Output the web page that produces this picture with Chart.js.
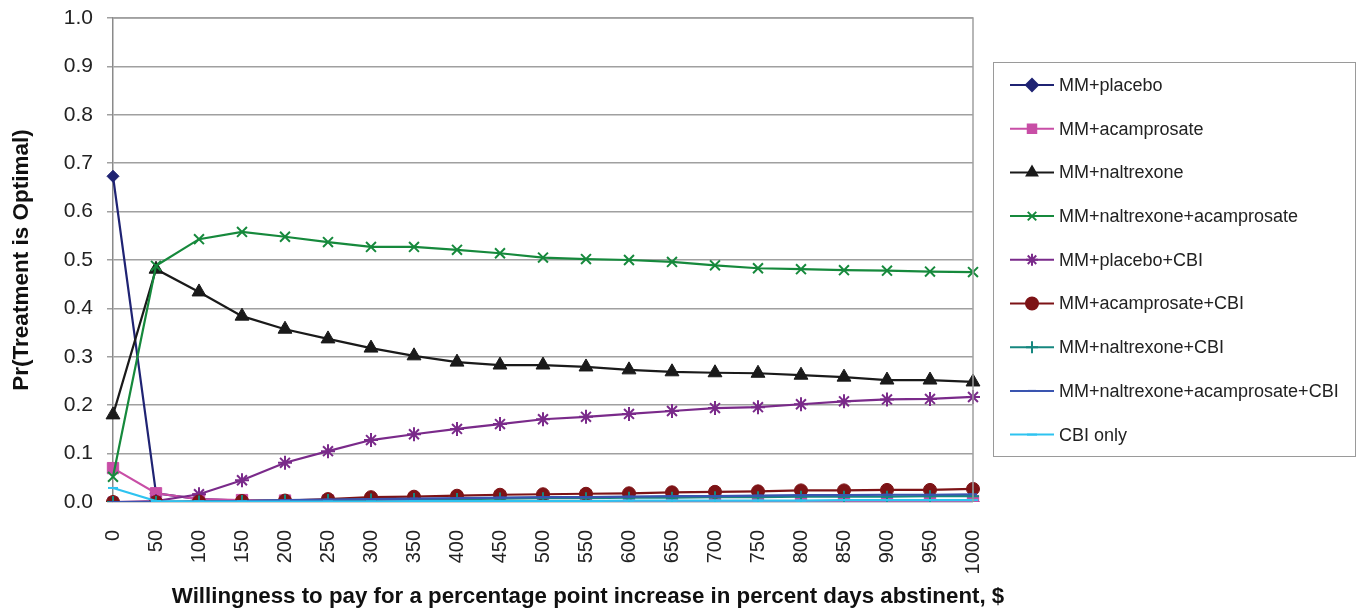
<!DOCTYPE html>
<html>
<head>
<meta charset="utf-8">
<title>Pr(Treatment is Optimal)</title>
<script src="https://cdn.jsdelivr.net/npm/chart.js"></script>
<style>
    html, body { margin: 0; padding: 0; background: #fff; }
    #wrap { width: 1362px; height: 616px; position: relative; }
</style>
</head>
<body>
<div id="wrap"><canvas id="ceac"></canvas></div>
<script>
const wtp = ['0', '50', '100', '150', '200', '250', '300', '350', '400', '450', '500',
             '550', '600', '650', '700', '750', '800', '850', '900', '950', '1000'];
const yTicks = [0, 0.1, 0.2, 0.3, 0.4, 0.5, 0.6, 0.7, 0.8, 0.9, 1.0];

const seriesNames = ['MM+placebo', 'MM+acamprosate', 'MM+naltrexone', 'MM+naltrexone+acamprosate',
    'MM+placebo+CBI', 'MM+acamprosate+CBI', 'MM+naltrexone+CBI', 'MM+naltrexone+acamprosate+CBI', 'CBI only'];

const mmPlacebo = [0.673, 0.018, 0.006, 0.003, 0.002, 0.001, 0.001, 0.001, 0.001, 0.001, 0.001,
                   0.001, 0.001, 0.001, 0.001, 0.001, 0.001, 0.001, 0.001, 0.001, 0.001];
const mmAcamp = [0.070, 0.018, 0.006, 0.004, 0.003, 0.003, 0.002, 0.002, 0.002, 0.002, 0.002,
                 0.002, 0.002, 0.002, 0.002, 0.002, 0.002, 0.002, 0.002, 0.002, 0.002];
const mmNaltrex = [0.180, 0.481, 0.434, 0.384, 0.357, 0.337, 0.318, 0.302, 0.289, 0.283, 0.283,
                   0.279, 0.273, 0.269, 0.267, 0.266, 0.262, 0.258, 0.252, 0.252, 0.248];
const mmNaltrexAcamp = [0.052, 0.488, 0.543, 0.558, 0.548, 0.537, 0.527, 0.527, 0.521, 0.514, 0.505,
                        0.502, 0.500, 0.496, 0.489, 0.483, 0.481, 0.479, 0.478, 0.476, 0.475];
const mmPlaceboCbi = [0.000, 0.002, 0.016, 0.045, 0.081, 0.105, 0.128, 0.140, 0.151, 0.161, 0.171,
                      0.176, 0.182, 0.188, 0.194, 0.196, 0.202, 0.208, 0.212, 0.213, 0.217];
const mmAcampCbi = [0.000, 0.000, 0.001, 0.002, 0.003, 0.006, 0.010, 0.011, 0.013, 0.015, 0.016,
                    0.017, 0.018, 0.020, 0.021, 0.022, 0.024, 0.024, 0.025, 0.025, 0.027];
const mmNaltrexCbi = [0.000, 0.000, 0.001, 0.002, 0.003, 0.004, 0.005, 0.006, 0.006, 0.007, 0.008,
                      0.008, 0.009, 0.009, 0.010, 0.010, 0.011, 0.011, 0.011, 0.012, 0.012];
const mmNaltrexAcampCbi = [0.000, 0.000, 0.001, 0.002, 0.004, 0.005, 0.006, 0.007, 0.008, 0.009, 0.010,
                           0.010, 0.011, 0.012, 0.012, 0.013, 0.014, 0.014, 0.015, 0.015, 0.016];
const cbiOnly = [0.029, 0.002, 0.001, 0.001, 0.001, 0.001, 0.001, 0.002, 0.002, 0.002, 0.002,
                 0.002, 0.003, 0.003, 0.003, 0.003, 0.003, 0.004, 0.004, 0.004, 0.004];

const allSeries = [mmPlacebo, mmAcamp, mmNaltrex, mmNaltrexAcamp, mmPlaceboCbi,
                   mmAcampCbi, mmNaltrexCbi, mmNaltrexAcampCbi, cbiOnly];

const colors = ['#1f2373', '#c84ea6', '#1a1a1a', '#16893c', '#7a2a8a', '#7d1316', '#16877f', '#3a55b0', '#2ec3f0'];
const markers = ['rectRot', 'rect', 'triangle', 'crossRot', 'star', 'circle', 'cross', 'line', 'line'];
const markerSize = [6, 8, 8, 7, 7, 6.5, 6, 4, 5];

const FONT = '"Liberation Sans", Arial, sans-serif';

const datasets = allSeries.map((vals, i) => ({
    label: seriesNames[i],
    data: vals,
    borderColor: colors[i],
    backgroundColor: colors[i],
    borderWidth: 2.2,
    pointStyle: markers[i],
    pointRadius: markerSize[i],
    pointBorderWidth: (markers[i] === 'crossRot' || markers[i] === 'star' || markers[i] === 'cross' || markers[i] === 'line') ? 2 : 1,
    fill: false,
    tension: 0,
    order: allSeries.length - i
}));

// legend box on the right, drawn as line + marker like the spreadsheet legend
const boxLegend = {
    id: 'boxLegend',
    afterDraw(chart) {
        const ctx = chart.ctx;
        const left = 993, top = 62, w = 362, h = 394;
        ctx.save();
        ctx.strokeStyle = '#9a9a9a';
        ctx.lineWidth = 1;
        ctx.strokeRect(left + 0.5, top + 0.5, w, h);
        chart.data.datasets.forEach((ds, i) => {
            const y = 85 + i * 43.7;
            ctx.strokeStyle = ds.borderColor;
            ctx.lineWidth = 2;
            ctx.beginPath();
            ctx.moveTo(1010, y);
            ctx.lineTo(1054, y);
            ctx.stroke();
            ctx.fillStyle = ds.backgroundColor;
            Chart.helpers.drawPoint(ctx, {
                pointStyle: ds.pointStyle,
                radius: Math.min(ds.pointRadius, 6),
                borderWidth: ds.pointBorderWidth,
                rotation: 0
            }, 1032, y);
            ctx.fillStyle = '#222';
            ctx.font = '18px ' + FONT;
            ctx.textAlign = 'left';
            ctx.textBaseline = 'middle';
            ctx.fillText(ds.label, 1059, y + 1);
        });
        // plot frame (top / right)
        const a = chart.chartArea;
        ctx.strokeStyle = '#a0a0a0';
        ctx.lineWidth = 1.5;
        ctx.beginPath();
        ctx.moveTo(a.left, a.top);
        ctx.lineTo(a.right, a.top);
        ctx.lineTo(a.right, a.bottom);
        ctx.stroke();
        // x-axis title
        ctx.fillStyle = '#111';
        ctx.font = 'bold 22.3px ' + FONT;
        ctx.textAlign = 'center';
        ctx.textBaseline = 'middle';
        ctx.fillText('Willingness to pay for a percentage point increase in percent days abstinent, $', 588, 597);
        ctx.restore();
    }
};

new Chart(document.getElementById('ceac'), {
    type: 'line',
    data: { labels: wtp, datasets: datasets },
    options: {
        responsive: true,
        maintainAspectRatio: false,
        animation: false,
        layout: { padding: { left: 0, right: 389, top: 18, bottom: 0 } },
        plugins: {
            legend: { display: false },
            tooltip: { enabled: false }
        },
        scales: {
            x: {
                type: 'category',
                offset: false,
                afterFit(scale) {
                    scale.height = 114;
                    scale.paddingLeft = 0;
                    scale.paddingRight = 0;
                },
                grid: { display: false },
                border: { display: false },
                ticks: {
                    minRotation: 90,
                    maxRotation: 90,
                    autoSkip: false,
                    padding: 20,
                    color: '#222',
                    font: { family: FONT, size: 20 }
                }
            },
            y: {
                min: 0,
                max: 1,
                afterFit(scale) {
                    scale.width = 113;
                    scale.paddingTop = 0;
                    scale.paddingBottom = 0;
                },
                afterBuildTicks(scale) { scale.ticks = yTicks.map(v => ({ value: v })); },
                grid: { color: '#a0a0a0', lineWidth: 1.5, tickLength: 6 },
                border: { color: '#8a8a8a', width: 1.5 },
                title: {
                    display: true,
                    text: 'Pr(Treatment is Optimal)',
                    color: '#111',
                    font: { family: FONT, size: 22.5, weight: 'bold' },
                    padding: { top: 8, bottom: 0 }
                },
                ticks: {
                    padding: 14,
                    color: '#222',
                    font: { family: FONT, size: 21 },
                    callback: v => v.toFixed(1)
                }
            }
        }
    },
    plugins: [boxLegend]
});
</script>
</body>
</html>
